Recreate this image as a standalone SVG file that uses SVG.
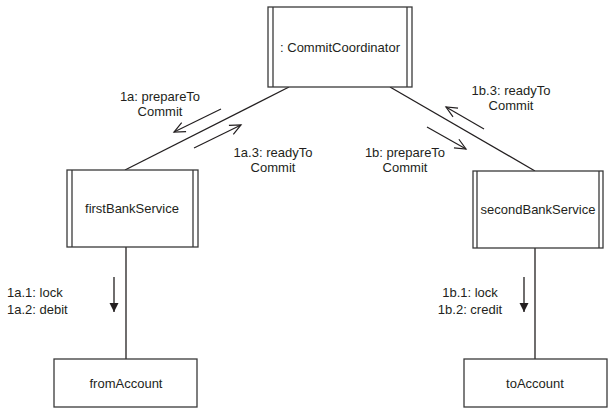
<svg xmlns="http://www.w3.org/2000/svg" width="614" height="413" viewBox="0 0 614 413">
<style>
text{font-family:"Liberation Sans",Arial,sans-serif;font-size:13px;fill:#231f20;text-anchor:middle}
.box{fill:#fff;stroke:#3a3a3a;stroke-width:1.3}
.in{stroke:#3a3a3a;stroke-width:1.3;fill:none}
.ln{stroke:#231f20;stroke-width:1.3;fill:none}
.msg{stroke:#231f20;stroke-width:1.2;fill:none;marker-end:url(#open)}
.dn{stroke:#231f20;stroke-width:1.3;fill:none;marker-end:url(#fill)}
</style>
<defs>
<marker id="open" markerWidth="14" markerHeight="12" refX="12" refY="6" orient="auto" markerUnits="userSpaceOnUse">
<path d="M1,1 L12,6 L1,11" fill="none" stroke="#231f20" stroke-width="1.2"/>
</marker>
<marker id="fill" markerWidth="10" markerHeight="10" refX="9" refY="4.5" orient="auto" markerUnits="userSpaceOnUse">
<path d="M0,0 L9,4.5 L0,9 Z" fill="#231f20"/>
</marker>
</defs>
<g id="connectors">
<line class="ln" x1="289" y1="87" x2="125" y2="170"/>
<line class="ln" x1="390" y1="87" x2="535" y2="171"/>
<line class="ln" x1="126" y1="247" x2="126" y2="359"/>
<line class="ln" x1="535" y1="248" x2="535" y2="359"/>
<line class="msg" x1="221" y1="109" x2="174" y2="132"/>
<line class="msg" x1="194" y1="148" x2="241" y2="125"/>
<line class="msg" x1="427" y1="127" x2="466" y2="149"/>
<line class="msg" x1="484" y1="129" x2="446" y2="107"/>
<line class="dn" x1="114" y1="277" x2="114" y2="312"/>
<line class="dn" x1="524" y1="277" x2="524" y2="312"/>
<text x="160" y="101">1a: prepareTo</text>
<text x="160" y="116">Commit</text>
<text x="273" y="157">1a.3: readyTo</text>
<text x="273" y="172">Commit</text>
<text x="405" y="157">1b: prepareTo</text>
<text x="405" y="172">Commit</text>
<text x="511" y="95">1b.3: readyTo</text>
<text x="511" y="110">Commit</text>
<text x="7" y="297" style="text-anchor:start">1a.1: lock</text>
<text x="7" y="314" style="text-anchor:start">1a.2: debit</text>
<text x="470" y="297">1b.1: lock</text>
<text x="470" y="314">1b.2: credit</text>
</g>
<g id="commitCoordinator">
<rect class="box" x="268" y="7" width="144" height="80"/>
<line class="in" x1="273" y1="7" x2="273" y2="87"/>
<line class="in" x1="407" y1="7" x2="407" y2="87"/>
<text x="340" y="52">: CommitCoordinator</text>
</g>
<g id="firstBankService">
<rect class="box" x="67" y="170" width="131" height="77"/>
<line class="in" x1="72" y1="170" x2="72" y2="247"/>
<line class="in" x1="193" y1="170" x2="193" y2="247"/>
<text x="132" y="213">firstBankService</text>
</g>
<g id="secondBankService">
<rect class="box" x="473" y="171" width="130" height="77"/>
<line class="in" x1="477" y1="171" x2="477" y2="248"/>
<line class="in" x1="599" y1="171" x2="599" y2="248"/>
<text x="538" y="214">secondBankService</text>
</g>
<g id="fromAccount">
<rect class="box" x="54" y="359" width="143" height="48"/>
<text x="126" y="388">fromAccount</text>
</g>
<g id="toAccount">
<rect class="box" x="464" y="359" width="143" height="48"/>
<text x="535" y="388">toAccount</text>
</g>
</svg>
